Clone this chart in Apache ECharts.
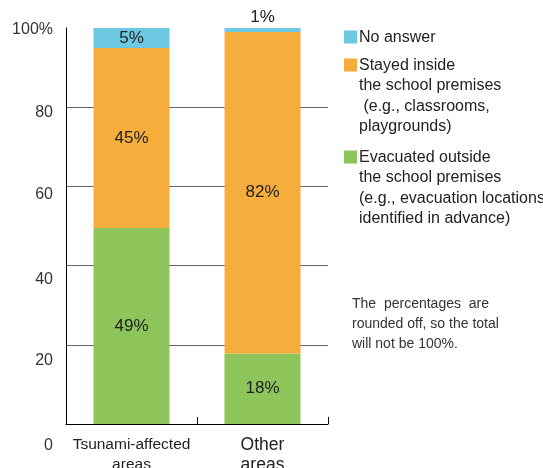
<!DOCTYPE html>
<html>
<head>
<meta charset="utf-8">
<script src="https://cdn.jsdelivr.net/npm/echarts@6/dist/echarts.min.js"></script>
<style>
html,body{margin:0;padding:0;background:#fff;}
#chart{width:543px;height:468px;}
</style>
</head>
<body>
<div id="chart"></div>
<script>
// ---- data ----
const categories = ['Tsunami-affected\nareas', 'Other\nareas'];
const evacuatedOutside = [49, 18];
const stayedInside = [45, 82];
const noAnswer = [5, 1];
const yTicks = [0, 20, 40, 60, 80, 100];
const seriesNames = ['No answer', 'Stayed inside', 'Evacuated outside'];
const legendTexts = [
  'No answer',
  'Stayed inside\nthe school premises\n (e.g., classrooms,\nplaygrounds)',
  'Evacuated outside\nthe school premises\n(e.g., evacuation locations\nidentified in advance)'
];
const noteText = 'The  percentages  are\nrounded off, so the total\nwill not be 100%.';

// ---- style ----
const colors = { blue: '#6DC8E1', orange: '#F5AD3C', green: '#8DC55A' };
const FONT = '"Liberation Sans", Arial, sans-serif';
const labelNudge = {0: 22, 20: 16, 40: 13.5, 60: 8.5, 80: 5.5, 100: 2};
const rich = {};
yTicks.forEach(v => {
  rich['o' + v] = { padding: [labelNudge[v] * 2, 0, 0, 0], fontSize: 16, color: '#333', fontFamily: FONT };
});

// bars are drawn as share of each column's total (100% stacked); labels show the stated values
const totals = categories.map((_, i) => evacuatedOutside[i] + stayedInside[i] + noAnswer[i]);
const share = arr => arr.map((v, i) => ({ value: v / totals[i] * 100, raw: v }));

const chart = echarts.init(document.getElementById('chart'), null, { renderer: 'canvas' });

const labelStyle = { show: true, position: 'inside', color: '#222', fontSize: 17, fontFamily: FONT,
  formatter: p => p.data.raw + '%' };

const legendY = [27, 55, 147];
const legendColors = [colors.blue, colors.orange, colors.green];
const graphic = [];
legendTexts.forEach((t, i) => {
  graphic.push({ type: 'rect', left: 344, top: legendY[i] + 3.5, shape: { width: 13, height: 13 }, style: { fill: legendColors[i] } });
  graphic.push({ type: 'text', left: 359, top: legendY[i], style: { text: t, font: '16px ' + FONT, fill: '#222', lineHeight: 20.5 } });
});
graphic.push({ type: 'text', left: 352, top: 294, style: { text: noteText, font: '14px ' + FONT, fill: '#333', lineHeight: 20 } });

const blueData = share(noAnswer);
blueData[1].label = { position: 'top', distance: 2 };

const option = {
  animation: false,
  grid: { left: 66, right: 215, top: 28, bottom: 44, containLabel: false, outerBoundsMode: 'none' },
  xAxis: {
    type: 'category',
    data: categories,
    axisLine: { lineStyle: { color: '#000', width: 1 } },
    axisTick: { show: true, inside: true, length: 7, alignWithLabel: false, lineStyle: { color: '#000' } },
    axisLabel: {
      interval: 0, hideOverlap: false,
      color: '#222', fontFamily: FONT, lineHeight: 20, margin: 11,
      formatter: (v, i) => i === 0 ? '{s|' + v.split('\n').join('}\n{s|') + '}' : '{b|' + v.split('\n').join('}\n{b|') + '}',
      rich: {
        s: { fontSize: 15.5, color: '#222', fontFamily: FONT, lineHeight: 20 },
        b: { fontSize: 17.5, color: '#222', fontFamily: FONT, lineHeight: 20 }
      }
    }
  },
  yAxis: {
    type: 'value',
    min: 0, max: 100, interval: 20,
    axisLine: { show: true, lineStyle: { color: '#000', width: 1 } },
    axisTick: { show: false },
    splitLine: { show: true, showMinLine: false, showMaxLine: false, lineStyle: { color: '#666', width: 1 } },
    axisLabel: {
      margin: 13, interval: 0, hideOverlap: false,
      formatter: v => '{o' + v + '|' + (v === 100 ? '100%' : v) + '}',
      rich: rich
    }
  },
  series: [
    { name: seriesNames[2], type: 'bar', stack: 'a', barWidth: 76, data: share(evacuatedOutside), itemStyle: { color: colors.green }, label: labelStyle },
    { name: seriesNames[1], type: 'bar', stack: 'a', barWidth: 76, data: share(stayedInside), itemStyle: { color: colors.orange }, label: labelStyle },
    { name: seriesNames[0], type: 'bar', stack: 'a', barWidth: 76, data: blueData, itemStyle: { color: colors.blue }, label: labelStyle }
  ],
  graphic: graphic
};
chart.setOption(option);
</script>
</body>
</html>
